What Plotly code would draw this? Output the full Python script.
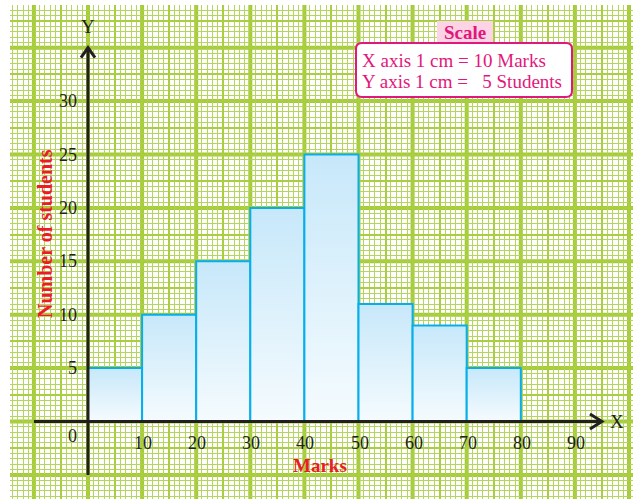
import math
import plotly.graph_objects as go

# ---- data ----
class_lower = [0, 10, 20, 30, 40, 50, 60, 70]
class_upper = [10, 20, 30, 40, 50, 60, 70, 80]
students = [5, 10, 15, 20, 25, 11, 9, 5]
x_tick_values = [10, 20, 30, 40, 50, 60, 70, 80, 90]
y_tick_values = [5, 10, 15, 20, 25, 30]
x_title = "Marks"
y_title = "Number of students"
scale_title = "Scale"
scale_lines = ["X axis 1 cm = 10 Marks", "Y axis 1 cm =\u00a0\u00a0\u00a05 Students"]

# ---- layout geometry (pixels) ----
W, H = 633, 499
ML, MT = 10, 5
X0PX, XS = 88.0, 5.41      # pixel of x=0, px per mark
Y0PX, YS = 421.5, 10.68    # pixel of y=0, px per student

def px2x(p):
    return (p - X0PX) / XS

def px2y(p):
    return (Y0PX - p) / YS

xr = [px2x(ML), px2x(W)]
yr = [px2y(H), px2y(MT)]

FONT = "Liberation Serif"
INK = "#231f20"
RED = "#ec1c24"
MAG = "#e2177c"
THIN = "#b4d55e"
MED = "#a9ce40"
THICK = "#a4ca36"
BAR_LINE = "#06afec"

fig = go.Figure()

# histogram bars: one closed polygon per class, with a vertical gradient fill
for lo, hi, n in zip(class_lower, class_upper, students):
    fig.add_trace(go.Scatter(
        x=[lo, lo, hi, hi, lo], y=[0, n, n, 0, 0],
        mode="lines", fill="toself",
        fillgradient=dict(type="vertical", start=n, stop=0,
                          colorscale=[[0, "#c7e8fa"], [1, "#f5fbfe"]]),
        line=dict(color=BAR_LINE, width=2),
        hoveron="fills", name=f"{lo}-{hi}", text=f"{lo}-{hi}: {n}", hoverinfo="text",
        showlegend=False,
    ))

shapes = []
# thick grid lines every 1 cm
k0 = math.ceil(xr[0] / 10)
k1 = math.floor(xr[1] / 10)
for k in range(k0, k1 + 1):
    shapes.append(dict(type="line", xref="x", yref="y", x0=k * 10, x1=k * 10,
                       y0=yr[0], y1=yr[1], line=dict(color=THICK, width=4), layer="below"))
k0 = math.ceil(yr[0] / 5)
k1 = math.floor(yr[1] / 5)
for k in range(k0, k1 + 1):
    shapes.append(dict(type="line", xref="x", yref="y", y0=k * 5, y1=k * 5,
                       x0=xr[0], x1=xr[1], line=dict(color=THICK, width=4), layer="below"))

# axes with arrows
X_END, X_START = 95, -10
Y_END, Y_START = 35, -5
shapes.append(dict(type="line", xref="x", yref="y", x0=X_START, x1=X_END, y0=0, y1=0,
                   line=dict(color=INK, width=3), layer="above"))
shapes.append(dict(type="line", xref="x", yref="y", x0=0, x1=0, y0=Y_START, y1=Y_END,
                   line=dict(color=INK, width=3), layer="above"))
dxa, dya = 12 / XS, 7.5 / YS
shapes.append(dict(type="path", xref="x", yref="y",
                   path=f"M {X_END - dxa},{dya} L {X_END},0 L {X_END - dxa},{-dya}",
                   line=dict(color=INK, width=3), layer="above"))
dxb, dyb = 7 / XS, 10 / YS
shapes.append(dict(type="path", xref="x", yref="y",
                   path=f"M {-dxb},{Y_END - dyb} L 0,{Y_END} L {dxb},{Y_END - dyb}",
                   line=dict(color=INK, width=3), layer="above"))

# scale box (paper coords)
def ppx(p):
    return (p - ML) / (W - ML)

def ppy(p):
    return 1 - (p - MT) / (H - MT)

shapes.append(dict(type="rect", xref="paper", yref="paper",
                   x0=ppx(437), x1=ppx(493), y0=ppy(43), y1=ppy(21),
                   fillcolor="#fcd4e6", line=dict(width=0), layer="above"))
bx0, bx1, by0, by1, r = 356, 572, 43, 97, 6
path = (f"M {ppx(bx0 + r)},{ppy(by0)} L {ppx(bx1 - r)},{ppy(by0)} "
        f"Q {ppx(bx1)},{ppy(by0)} {ppx(bx1)},{ppy(by0 + r)} "
        f"L {ppx(bx1)},{ppy(by1 - r)} Q {ppx(bx1)},{ppy(by1)} {ppx(bx1 - r)},{ppy(by1)} "
        f"L {ppx(bx0 + r)},{ppy(by1)} Q {ppx(bx0)},{ppy(by1)} {ppx(bx0)},{ppy(by1 - r)} "
        f"L {ppx(bx0)},{ppy(by0 + r)} Q {ppx(bx0)},{ppy(by0)} {ppx(bx0 + r)},{ppy(by0)} Z")
shapes.append(dict(type="path", xref="paper", yref="paper", path=path,
                   fillcolor="white", line=dict(color=MAG, width=2), layer="above"))

ann = []
for v in x_tick_values:
    ann.append(dict(x=v, y=0, xref="x", yref="y", text=str(v), showarrow=False,
                    xanchor="center", yanchor="middle", yshift=-21, xshift=1,
                    font=dict(family=FONT, size=18, color=INK)))
for v in y_tick_values:
    ann.append(dict(x=0, y=v, xref="x", yref="y", text=str(v), showarrow=False,
                    xanchor="right", yanchor="middle", xshift=-9,
                    font=dict(family=FONT, size=18, color=INK)))
ann.append(dict(x=0, y=0, xref="x", yref="y", text="0", showarrow=False,
                xanchor="right", yanchor="middle", xshift=-9, yshift=-14,
                font=dict(family=FONT, size=18, color=INK)))
ann.append(dict(x=0, y=Y_END, xref="x", yref="y", text="Y", showarrow=False,
                xanchor="center", yanchor="middle", yshift=21,
                font=dict(family=FONT, size=19, color=INK)))
ann.append(dict(x=X_END, y=0, xref="x", yref="y", text="X", showarrow=False,
                xanchor="center", yanchor="middle", xshift=15,
                font=dict(family=FONT, size=19, color=INK)))
ann.append(dict(x=px2x(320), y=px2y(465), xref="x", yref="y", text=f"<b>{x_title}</b>",
                showarrow=False, xanchor="center", yanchor="middle",
                font=dict(family=FONT, size=19, color=RED)))
ann.append(dict(x=px2x(45), y=px2y(234), xref="x", yref="y", text=f"<b>{y_title}</b>",
                showarrow=False, xanchor="center", yanchor="middle", textangle=-90,
                font=dict(family=FONT, size=20, color=RED)))
ann.append(dict(x=ppx(465), y=ppy(32), xref="paper", yref="paper", text=f"<b>{scale_title}</b>",
                showarrow=False, xanchor="center", yanchor="middle",
                font=dict(family=FONT, size=19, color=MAG)))
for i, t in enumerate(scale_lines):
    ann.append(dict(x=ppx(360), y=ppy(60 + 21 * i), xref="paper", yref="paper", text=t,
                    showarrow=False, xanchor="left", yanchor="middle",
                    font=dict(family=FONT, size=19, color=MAG)))

fig.update_layout(
    width=W, height=H,
    margin=dict(l=ML, r=0, t=MT, b=0),
    paper_bgcolor="white", plot_bgcolor="white",
    showlegend=False, hovermode="closest",
    shapes=shapes, annotations=ann,
    xaxis=dict(range=xr, dtick=5, tick0=0, showgrid=True, gridcolor=MED, gridwidth=2,
               zeroline=False, showticklabels=False, ticks="", showline=False, fixedrange=True,
               minor=dict(dtick=1, tick0=0, showgrid=True, gridcolor=THIN, gridwidth=1)),
    yaxis=dict(range=yr, dtick=2.5, tick0=0, showgrid=True, gridcolor=MED, gridwidth=2,
               zeroline=False, showticklabels=False, ticks="", showline=False, fixedrange=True,
               minor=dict(dtick=0.5, tick0=0, showgrid=True, gridcolor=THIN, gridwidth=1)),
)

fig.write_html("out.html", config={"displayModeBar": False},
               post_script="document.body.style.margin='0px';")
